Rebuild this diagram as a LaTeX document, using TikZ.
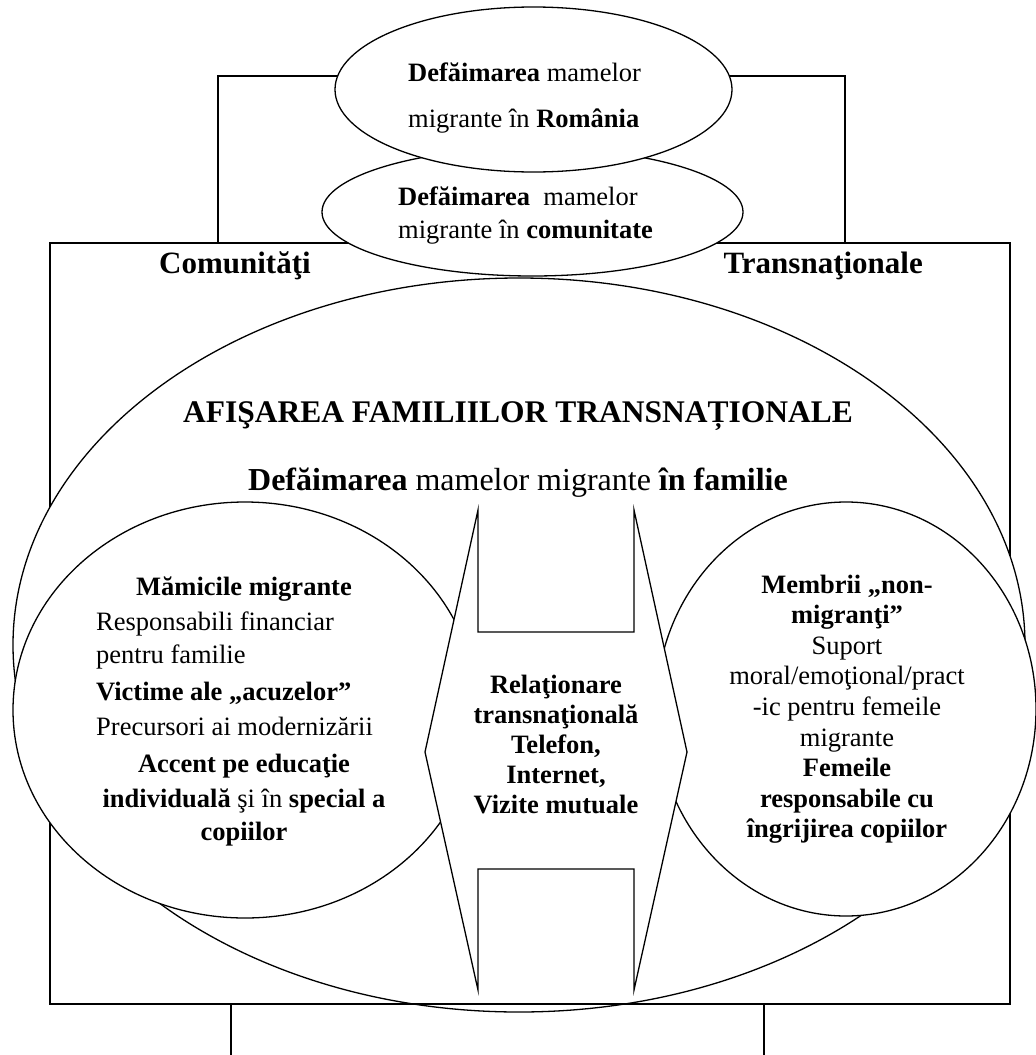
\documentclass[tikz,border=0pt]{standalone}
\usepackage{fontspec}
\setmainfont{Liberation Serif}
\usetikzlibrary{shapes.geometric}
\begin{document}
\begin{tikzpicture}[x=1pt,y=-1pt,
  shapeline/.style={draw=black, line width=1.3pt},
  whiteoval/.style={shapeline, ellipse, fill=white, inner sep=0pt, outer sep=0pt},
  framestyle/.style={draw=black, line width=1.7pt},
  txtc/.style={font=\fontsize{26.5}{30}\selectfont, inner sep=0pt, anchor=base},
  txtl/.style={font=\fontsize{26.5}{30}\selectfont, inner sep=0pt, anchor=base west},
  ovaltxt/.style={font=\fontsize{26.5}{30}\selectfont, inner sep=0pt, anchor=base west},
  headtxt/.style={font=\fontsize{31}{34}\selectfont\bfseries, inner sep=0pt},
  bigtxt/.style={font=\fontsize{31.5}{36}\selectfont, inner sep=0pt, anchor=base}
]
\useasboundingbox (0,0) rectangle (1036,1055);
\fill[white] (0,0) rectangle (1036,1055);

% outer frame of the transnational communities
\node[framestyle, minimum width=960pt, minimum height=761pt, inner sep=0pt, outer sep=0pt, anchor=north west] (frame) at (50,243) {};

% big family ellipse
\node[whiteoval, minimum width=1012pt, minimum height=734pt] (family) at (519,645) {};
\draw[framestyle] (frame.south west) -- (frame.south east);

% left and right circles
\node[whiteoval, minimum width=464pt, minimum height=416pt] (leftc) at (245,710) {};
\node[whiteoval, minimum width=380pt, minimum height=414pt] (rightc) at (846,709) {};

% central double arrow with notches
\draw[shapeline, fill=white] (478,510) -- (478,632) -- (634,632) -- (634,510) -- (687,752)
  -- (634,990) -- (634,869) -- (478,869) -- (478,990) -- (425,752) -- cycle;

% community and Romania ellipses
\node[whiteoval, minimum width=421pt, minimum height=128pt] (comm) at (532.5,212) {};
\node[whiteoval, minimum width=397pt, minimum height=165pt] (ro) at (533.5,89.5) {};

% bracket connectors
\coordinate (brL) at (218,243);
\coordinate (brR) at (845,243);
\draw[framestyle] (brL) |- (ro.176);
\draw[framestyle] (brR) |- (ro.4);
\coordinate (legL) at (231,1055);
\coordinate (legR) at (764,1055);
\draw[framestyle] (frame.south -| legL) -- (legL);
\draw[framestyle] (frame.south -| legR) -- (legR);

% texts in top ellipses
\node[ovaltxt] (ro1) at (408,81) {\textbf{Defăimarea} mamelor};
\node[ovaltxt] (ro2) at (408,127) {migrante în \textbf{România}};
\node[ovaltxt] (cm1) at (398,205) {\textbf{Defăimarea}\ \ mamelor};
\node[ovaltxt] (cm2) at (398,238) {migrante în \textbf{comunitate}};

% frame headings
\node[headtxt, anchor=base west] (comtxt) at (159,273) {Comunităţi};
\node[headtxt, anchor=base east] (transtxt) at (923,273) {Transnaţionale};

% family titles
\node[bigtxt, font=\fontsize{31.5}{36}\selectfont\bfseries] (title) at (518,422) {AFIŞAREA FAMILIILOR TRANSNAȚIONALE};
\node[bigtxt, font=\fontsize{32}{36}\selectfont] (famtxt) at (518,490) {\textbf{Defăimarea} mamelor migrante \textbf{în familie}};

% left circle text
\node[txtc] (l1) at (244,595) {\textbf{Mămicile migrante}};
\node[txtl] (l2) at (96,630) {Responsabili financiar};
\node[txtl] (l3) at (96,663) {pentru familie};
\node[txtl] (l4) at (96,700) {\textbf{Victime ale „acuzelor”}};
\node[txtl] (l5) at (96,735) {Precursori ai modernizării};
\node[txtc] (l6) at (244,772) {\textbf{Accent pe educaţie}};
\node[txtc] (l7) at (244,807) {\textbf{individuală} şi în \textbf{special a}};
\node[txtc] (l8) at (244,840) {\textbf{copiilor}};

% central text
\foreach \t [count=\i] in {{Relaţionare},{transnaţională},{Telefon,},{Internet,},{Vizite mutuale}}
  \node[txtc, font=\fontsize{26.5}{30}\selectfont\bfseries] (c\i) at (556,{693+30*(\i-1)}) {\t};

% right circle text
\foreach \t [count=\i] in {{\textbf{Membrii „non-}},{\textbf{migranţi”}},{Suport},{moral/emoţional/pract},{-ic pentru femeile},{migrante},{\textbf{Femeile}},{\textbf{responsabile cu}},{\textbf{îngrijirea copiilor}}}
  \node[txtc] (r\i) at (847,{593+30.6*(\i-1)}) {\t};
\end{tikzpicture}
\end{document}
